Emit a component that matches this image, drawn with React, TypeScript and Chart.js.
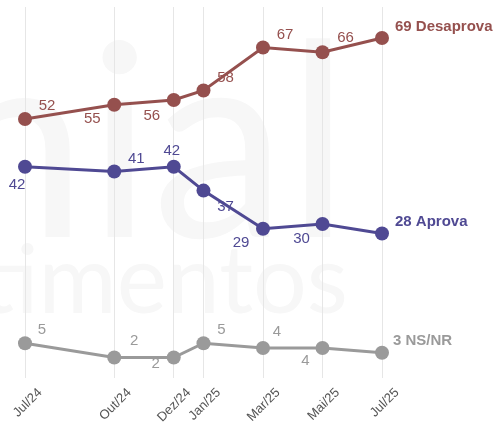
import React, { useEffect, useRef } from "react";
import { Chart, registerables } from "chart.js";

Chart.register(...registerables);

// Month index since Jul/24
const monthIndex = [0, 3, 5, 6, 8, 10, 12];
const tickLabels = ["Jul/24", "Out/24", "Dez/24", "Jan/25", "Mar/25", "Mai/25", "Jul/25"];
const desaprova = [52, 55, 56, 58, 67, 66, 69];
const aprova = [42, 41, 42, 37, 29, 30, 28];
const nsnr = [5, 2, 2, 5, 4, 4, 3];
const seriesNames = ["Desaprova", "Aprova", "NS/NR"];
const seriesColors = ["#95504e", "#4f4993", "#9a9a9a"];

// label offsets (dx, dy) relative to each point
const labelOffsets = [
  [[22, -13], [-22, 14], [-22, 16], [22, -13], [22, -13], [23, -14], [13, -11]],
  [[-8, 18], [22, -13], [-2, -16], [22, 16], [-22, 14], [-21, 15], [13, -12]],
  [[17, -13], [20, -17], [-18, 6], [18, -13], [14, -16], [-17, 13], [11, -12]],
];

const watermarkPlugin = {
  id: "watermark",
  beforeDraw(chart: any) {
    const { ctx } = chart;
    ctx.save();
    ctx.fillStyle = "#f7f7f7";
    ctx.textAlign = "right";
    ctx.textBaseline = "alphabetic";
    ctx.font = "270px Lato, 'Open Sans', sans-serif";
    ctx.fillText("genial", 350, 237);
    ctx.font = "95px Lato, 'Open Sans', sans-serif";
    ctx.fillText("investimentos", 348, 313);
    ctx.restore();
  },
};

const labelPlugin = {
  id: "pointLabels",
  afterDatasetsDraw(chart: any) {
    const { ctx } = chart;
    ctx.save();
    chart.data.datasets.forEach((ds: any, di: number) => {
      const meta = chart.getDatasetMeta(di);
      const n = ds.data.length;
      meta.data.forEach((pt: any, i: number) => {
        const [dx, dy] = labelOffsets[di][i];
        const v = ds.data[i].y;
        ctx.fillStyle = seriesColors[di];
        ctx.textBaseline = "middle";
        if (i === n - 1) {
          ctx.font = "bold 15px 'Liberation Sans', Arial, sans-serif";
          ctx.textAlign = "left";
          ctx.fillText(`${v} ${seriesNames[di]}`, pt.x + dx, pt.y + dy);
        } else {
          ctx.font = "15px 'Liberation Sans', Arial, sans-serif";
          ctx.textAlign = "center";
          ctx.fillText(String(v), pt.x + dx, pt.y + dy);
        }
      });
    });
    ctx.restore();
  },
};

export default function App() {
  const ref = useRef<HTMLCanvasElement>(null);
  useEffect(() => {
    if (!ref.current) return;
    const series = [desaprova, aprova, nsnr];
    const chart = new Chart(ref.current, {
      type: "line",
      data: {
        datasets: series.map((vals, di) => ({
          label: seriesNames[di],
          data: vals.map((v, i) => ({ x: monthIndex[i], y: v })),
          borderColor: seriesColors[di],
          backgroundColor: seriesColors[di],
          borderWidth: 3,
          pointRadius: 7,
          pointHoverRadius: 7,
          pointBorderWidth: 0,
          tension: 0,
          clip: false as any,
        })),
      },
      options: {
        responsive: false,
        animation: false,
        layout: { padding: { left: 0, right: 113, top: 7, bottom: 0 } },
        plugins: { legend: { display: false }, tooltip: { enabled: false } },
        scales: {
          x: {
            type: "linear",
            min: 0,
            max: 12,
            afterBuildTicks: (axis: any) => {
              axis.ticks = monthIndex.map((m) => ({ value: m }));
            },
            afterFit: (axis: any) => {
              axis.height = 46;
              axis.paddingLeft = 25;
              axis.paddingRight = 0;
            },
            ticks: {
              autoSkip: false,
              minRotation: 45,
              maxRotation: 45,
              padding: 7,
              labelOffset: 15,
              color: "#555",
              font: { family: "'Liberation Sans', Arial, sans-serif", size: 13 },
              callback: (value: any) => {
                const idx = monthIndex.indexOf(Number(value));
                return idx >= 0 ? tickLabels[idx] : "";
              },
            },
            grid: { color: "#e6e6e6", lineWidth: 1, drawTicks: false },
            border: { display: false },
          },
          y: {
            display: false,
            min: -2.3,
            max: 75.5,
          },
        },
      },
      plugins: [watermarkPlugin, labelPlugin],
    });
    return () => chart.destroy();
  }, []);
  return (
    <div style={{ position: "absolute", left: 0, top: 0, width: 495, height: 424, background: "#fff", overflow: "hidden" }}>
      <canvas ref={ref} width={495} height={424} style={{ display: "block" }} />
    </div>
  );
}
